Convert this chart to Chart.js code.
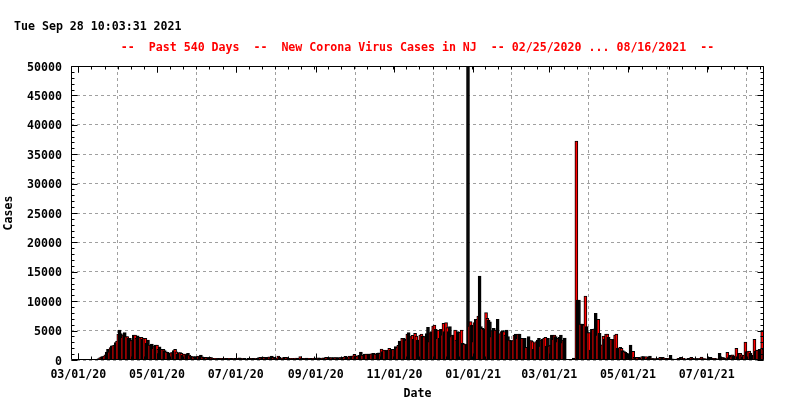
<!DOCTYPE html>
<html>
<head>
<meta charset="utf-8">
<script src="https://cdn.jsdelivr.net/npm/chart.js@4.4.0/dist/chart.umd.min.js"></script>
<style>
html, body { margin: 0; padding: 0; background: #fff; }
</style>
</head>
<body>
<canvas id="myChart" width="800" height="400"></canvas>
<script>
// daily new cases, starting 02/25/2020
var casesFeb20 = [0, 0, 0, 0, 0];
var casesMar20 = [0, 0, 0, 1, 1, 2, 0, 4, 2, 5, 7, 8, 20, 29, 50, 150, 250, 400, 550, 570, 650, 900, 1350, 1800, 1400, 2100, 2400, 2450, 2550, 2950, 3200];
var casesApr20 = [4400, 5100, 4500, 3850, 4300, 4650, 3970, 3970, 3700, 3700, 3300, 3400, 4250, 4250, 3700, 4100, 3600, 3850, 3850, 3500, 3700, 3700, 2850, 3400, 2550, 2550, 2700, 2000, 2400, 2550];
var casesMay20 = [2550, 1800, 2250, 1700, 1800, 1800, 1600, 1400, 1300, 1130, 1130, 1250, 1250, 1600, 1800, 1400, 1000, 1250, 1250, 1130, 850, 1000, 1000, 850, 1130, 850, 680, 570, 570, 450, 570];
var casesJun20 = [570, 680, 570, 850, 560, 450, 400, 450, 400, 350, 450, 400, 300, 250, 300, 250, 230, 300, 250, 280, 230, 300, 250, 280, 230, 300, 250, 280, 250, 230];
var casesJul20 = [300, 250, 280, 350, 300, 250, 230, 300, 100, 150, 280, 300, 250, 280, 300, 230, 250, 280, 400, 450, 450, 500, 450, 400, 450, 450, 520, 400, 680, 450, 300];
var casesAug20 = [280, 330, 680, 450, 300, 280, 400, 450, 450, 400, 280, 250, 300, 280, 250, 300, 330, 280, 300, 570, 300, 280, 250, 300, 330, 280, 300, 250, 280, 300, 330];
var casesSep20 = [340, 300, 350, 340, 340, 300, 350, 340, 450, 450, 420, 400, 400, 380, 400, 420, 400, 380, 400, 420, 400, 450, 500, 620, 450, 500, 680, 600, 680, 720];
var casesOct20 = [960, 700, 620, 740, 800, 1360, 850, 800, 1000, 1020, 1020, 1000, 1020, 1050, 1100, 1130, 1020, 1000, 1130, 1200, 1130, 1870, 1420, 1700, 1600, 1590, 1700, 1980, 1700, 1800, 1810];
var casesNov20 = [1810, 2270, 2100, 2500, 3230, 2270, 3690, 3690, 3600, 3400, 4420, 4650, 3970, 3970, 4200, 3520, 4540, 4080, 3400, 3400, 4250, 4420, 4080, 3970, 3970, 4500, 5560, 3120, 4650, 4820];
var casesDec20 = [5780, 5950, 5220, 3690, 5100, 3690, 5200, 4300, 6240, 4820, 6350, 5500, 4820, 5670, 3970, 4250, 4250, 5100, 3400, 4820, 4650, 4700, 5100, 2830, 2720, 2720, 2600, 56000, 5780, 6520, 5950];
var casesJan21 = [3120, 6350, 6920, 6900, 7480, 14290, 5670, 5390, 5220, 5300, 8050, 7090, 6800, 6500, 3970, 4990, 5390, 5100, 5100, 6920, 4080, 4500, 4820, 4990, 4820, 4250, 5100, 4000, 3400, 3290, 3290];
var casesFeb21 = [3290, 4250, 4420, 3690, 4400, 4420, 3690, 3690, 3690, 3690, 2150, 2150, 3970, 3290, 3290, 3120, 1810, 2950, 3120, 3400, 3690, 2380, 3400, 3500, 3690, 3860, 2380, 3690];
var casesMar21 = [2380, 2550, 4250, 3520, 4250, 3970, 3120, 3690, 3860, 4250, 2950, 3400, 3740, 0, 0, 0, 0, 0, 0, 340, 0, 37230, 10200, 10200, 6120, 6120, 6120, 6000, 10890, 5670, 4650];
var casesApr21 = [4650, 1700, 5220, 5220, 5300, 7940, 4250, 6920, 4540, 2550, 2600, 4080, 3520, 4420, 4400, 3860, 3120, 3520, 3520, 3520, 4250, 4420, 2000, 1980, 2150, 1980, 1590, 1420, 1300, 1130];
var casesMay21 = [230, 900, 2550, 850, 1470, 450, 340, 450, 450, 280, 400, 570, 570, 450, 570, 280, 450, 680, 230, 230, 230, 200, 230, 250, 230, 450, 450, 450, 300, 230, 280];
var casesJun21 = [250, 300, 790, 200, 110, 150, 110, 110, 280, 300, 450, 300, 280, 200, 170, 200, 280, 250, 450, 300, 230, 200, 230, 250, 200, 280, 510, 250, 230, 200];
var casesJul21 = [110, 200, 250, 450, 280, 230, 280, 250, 200, 110, 1130, 450, 400, 400, 300, 230, 1300, 400, 850, 570, 900, 700, 110, 1980, 570, 1130, 1130, 900, 570, 800, 3060];
var casesAug21 = [1420, 1420, 1530, 1130, 800, 0, 3520, 1530, 1700, 1700, 1810, 1810, 5000, 1800, 1500, 1600];

var START_DATE = Date.UTC(2020, 1, 25);
var TICK_DATES = ['2020-03-01', '2020-05-01', '2020-07-01', '2020-09-01', '2020-11-01', '2021-01-01', '2021-03-01', '2021-05-01', '2021-07-01'];
var TICK_LABELS = ['03/01/20', '05/01/20', '07/01/20', '09/01/20', '11/01/20', '01/01/21', '03/01/21', '05/01/21', '07/01/21'];
var Y_TICKS = [0, 5000, 10000, 15000, 20000, 25000, 30000, 35000, 40000, 45000, 50000];

var STAMP = 'Tue Sep 28 10:03:31 2021';
var TITLE = '--  Past 540 Days  --  New Corona Virus Cases in NJ  -- 02/25/2020 ... 08/16/2021  --';

function dayIndex(s) {
    var p = s.split('-');
    return Math.round((Date.UTC(+p[0], +p[1] - 1, +p[2]) - START_DATE) / 86400000);
}

var allCases = [].concat(casesFeb20, casesMar20, casesApr20, casesMay20, casesJun20, casesJul20,
    casesAug20, casesSep20, casesOct20, casesNov20, casesDec20, casesJan21, casesFeb21,
    casesMar21, casesApr21, casesMay21, casesJun21, casesJul21, casesAug21);
var points = allCases.map(function(v, i) { return {x: i, y: v}; });
var tickIdx = TICK_DATES.map(dayIndex);

var FONT = {family: 'DejaVu Sans Mono', size: 11.6, weight: 'bold'};
var FONT_CSS = 'bold 11.6px "DejaVu Sans Mono"';

// gnuplot boxes land on whole pixels: a 2px box is only border, a 3px one shows its red fill
function boxFill(c) {
    var px = c.chart.scales.x.getPixelForValue(c.dataIndex) - 1.075;
    var f = px - Math.floor(px);
    return (f < 0.5 || f >= 0.92) ? '#ff0000' : '#000000';
}

// header text + gnuplot style border with tic marks
var gnuFrame = {
    id: 'gnuFrame',
    afterDatasetsDraw: function(chart) {
        var ctx = chart.ctx, a = chart.chartArea;
        var xs = chart.scales.x, ys = chart.scales.y;
        var L = Math.round(a.left) + 0.5, R = Math.round(a.right) - 0.5;
        var T = Math.round(a.top) + 0.5, B = Math.round(a.bottom) - 0.5;
        ctx.save();
        ctx.strokeStyle = '#000';
        ctx.lineWidth = 1;
        ctx.beginPath();
        for (var v = 0; v <= 50000; v += 1000) {
            var py = Math.round(ys.getPixelForValue(v)) + 0.5;
            var len = v % 5000 === 0 ? 6 : 3;
            ctx.moveTo(L, py); ctx.lineTo(L + len, py);
            ctx.moveTo(R, py); ctx.lineTo(R - len, py);
        }
        // major tics on the labelled dates, minor ones splitting each step in 6
        var step = tickIdx[1] - tickIdx[0];
        for (var t = tickIdx[0] - step; t <= xs.max; t += step / 6) {
            if (t < xs.min) continue;
            var major = tickIdx.some(function(m) { return Math.abs(m - t) < 0.5; });
            var px = Math.round(xs.getPixelForValue(major ? Math.round(t) : t)) + 0.5;
            var tl = major ? 6 : 3;
            ctx.moveTo(px, B); ctx.lineTo(px, B - tl);
            ctx.moveTo(px, T); ctx.lineTo(px, T + tl);
        }
        tickIdx.forEach(function(m) {
            var px = Math.round(xs.getPixelForValue(m)) + 0.5;
            ctx.moveTo(px, B); ctx.lineTo(px, B - 6);
            ctx.moveTo(px, T); ctx.lineTo(px, T + 6);
        });
        ctx.rect(L, T, R - L, B - T);
        ctx.stroke();

        ctx.font = FONT_CSS;
        ctx.textBaseline = 'middle';
        ctx.fillStyle = '#000';
        ctx.textAlign = 'left';
        ctx.fillText(STAMP, 14, 27);
        ctx.fillStyle = '#ff0000';
        ctx.textAlign = 'center';
        ctx.fillText(TITLE, (a.left + a.right) / 2, 47.5);
        ctx.restore();
    }
};

var ctx = document.getElementById('myChart').getContext('2d');
var chart = new Chart(ctx, {
    type: 'bar',
    data: {
        datasets: [{
            data: points,
            backgroundColor: boxFill,
            borderColor: '#000000',
            borderWidth: 1,
            borderSkipped: 'start',
            barThickness: 3,
            clip: 0
        }]
    },
    options: {
        responsive: false,
        animation: false,
        devicePixelRatio: 1,
        layout: { padding: { left: 0, right: 36, top: 66, bottom: 0 } },
        plugins: {
            legend: { display: false },
            tooltip: { enabled: false }
        },
        scales: {
            x: {
                type: 'linear',
                min: -0.66,
                max: 536.4,
                offset: false,
                afterFit: function(s) { s.height = 40; },
                afterBuildTicks: function(s) {
                    s.ticks = tickIdx.map(function(t) { return {value: t}; });
                },
                ticks: {
                    autoSkip: false,
                    maxRotation: 0,
                    padding: 8,
                    color: '#000',
                    font: FONT,
                    callback: function(value) {
                        var k = tickIdx.indexOf(value);
                        return k >= 0 ? TICK_LABELS[k] : '';
                    }
                },
                grid: { color: '#a0a0a0', drawTicks: false, lineWidth: 1 },
                border: { display: false, dash: [3, 3] },
                title: { display: true, text: 'Date', color: '#000', font: FONT, padding: { top: 0, bottom: -1 } }
            },
            y: {
                min: 0,
                max: 50000,
                afterFit: function(s) { s.width = 71; },
                afterBuildTicks: function(s) {
                    s.ticks = Y_TICKS.map(function(t) { return {value: t}; });
                },
                ticks: {
                    padding: 9,
                    labelOffset: 1.5,
                    color: '#000',
                    font: FONT,
                    callback: function(value) { return String(value); }
                },
                grid: { color: '#a0a0a0', drawTicks: false, lineWidth: 1 },
                border: { display: false, dash: [3, 3] },
                title: { display: true, text: 'Cases', color: '#000', font: FONT, padding: { top: 2.5, bottom: 0 } }
            }
        }
    },
    plugins: [gnuFrame]
});
</script>
</body>
</html>
